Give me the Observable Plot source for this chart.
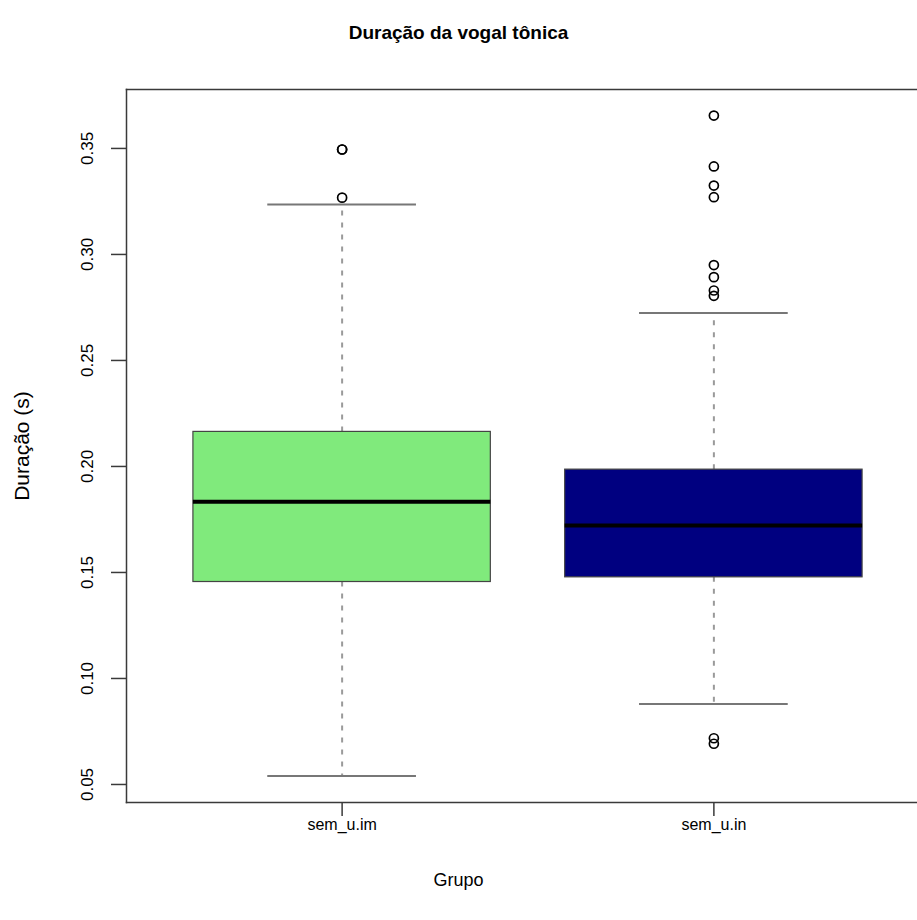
<!DOCTYPE html>
<html>
<head>
<meta charset="utf-8">
<script src="https://cdn.jsdelivr.net/npm/d3@7"></script>
<script src="https://cdn.jsdelivr.net/npm/@observablehq/plot@0.6"></script>
<style>
  html, body { margin: 0; padding: 0; background: #fff; overflow: hidden; }
  #wrap { width: 917px; font-family: "Liberation Sans", Arial, Helvetica, sans-serif; }
  #title { height: 60px; line-height: 66px; text-align: center; font-weight: bold; font-size: 19px; color: #000; }
  #xlabel { height: 60px; line-height: 40px; text-align: center; font-size: 18px; color: #000; }
  svg { display: block; overflow: hidden; }
</style>
</head>
<body>
<div id="wrap">
  <div id="title">Duração da vogal tônica</div>
  <div id="chart"></div>
  <div id="xlabel">Grupo</div>
</div>
<script>
// Summary statistics of vowel duration (s) per group
const groups = ["sem_u.im", "sem_u.in"];
const whiskerLow = [0.054, 0.088];
const q1 = [0.1455, 0.1477];
const median = [0.1833, 0.1722];
const q3 = [0.2163, 0.1985];
const whiskerHigh = [0.3235, 0.2724];
const outliersIm = [0.3495, 0.3495, 0.3268];
const outliersIn = [0.3655, 0.3415, 0.3325, 0.3270, 0.2950, 0.2893, 0.2830, 0.2805, 0.0718, 0.0692];
const boxColors = ["#80ea7c", "#000080"];
const yTicks = [0.05, 0.10, 0.15, 0.20, 0.25, 0.30, 0.35];

const boxes = groups.map((name, i) => ({
  name, pos: i + 1,
  lo: whiskerLow[i], q1: q1[i], med: median[i], q3: q3[i], hi: whiskerHigh[i]
}));
const outliers = [
  ...outliersIm.map(v => ({pos: 1, value: v})),
  ...outliersIn.map(v => ({pos: 2, value: v}))
];

const boxHalf = 0.4, stapleHalf = 0.2;
const axisColor = "#3a3a3a";

const chart = Plot.plot({
  width: 917,
  height: 800,
  marginTop: 29,
  marginBottom: 58,
  marginLeft: 126,
  marginRight: 0,
  style: {fontFamily: "Liberation Sans, Arial, sans-serif", color: "#000", background: "#fff"},
  x: {type: "linear", domain: [0.42, 2.58], range: [126, 929]},
  y: {domain: [0.0415, 0.3778]},
  color: {domain: groups, range: boxColors},
  marks: [
    // whiskers
    Plot.ruleX(boxes, {x: "pos", y1: "q3", y2: "hi", stroke: "#9a9a9a", strokeWidth: 2, strokeDasharray: "5,7"}),
    Plot.ruleX(boxes, {x: "pos", y1: "q1", y2: "lo", stroke: "#9a9a9a", strokeWidth: 2, strokeDasharray: "5,7"}),
    // staples
    Plot.ruleY(boxes, {y: "hi", x1: d => d.pos - stapleHalf, x2: d => d.pos + stapleHalf, stroke: "#777", strokeWidth: 2}),
    Plot.ruleY(boxes, {y: "lo", x1: d => d.pos - stapleHalf, x2: d => d.pos + stapleHalf, stroke: "#777", strokeWidth: 2}),
    // boxes
    Plot.rect(boxes, {x1: d => d.pos - boxHalf, x2: d => d.pos + boxHalf, y1: "q1", y2: "q3", fill: "name", stroke: "#444", strokeWidth: 1.2}),
    // medians
    Plot.ruleY(boxes, {y: "med", x1: d => d.pos - boxHalf, x2: d => d.pos + boxHalf, stroke: "#000", strokeWidth: 4}),
    // outliers
    Plot.dot(outliers, {x: "pos", y: "value", r: 4.5, stroke: "#000", strokeWidth: 1.7, fill: "none"}),
    // plot box (right side runs past the visible width)
    Plot.frame({anchor: "top", stroke: axisColor, strokeWidth: 1.5}),
    Plot.frame({anchor: "left", stroke: axisColor, strokeWidth: 1.5}),
    Plot.frame({anchor: "bottom", stroke: axisColor, strokeWidth: 1.5}),
    // axes
    Plot.axisY({ticks: yTicks, tickSize: 15, tickPadding: 19, tickRotate: -90, tickFormat: d3.format(".2f"), fontSize: 17, label: null, stroke: axisColor, strokeWidth: 1.5}),
    Plot.axisX({ticks: [1, 2], tickSize: 14, tickPadding: 2, tickFormat: d => groups[d - 1], fontSize: 16, label: null, stroke: axisColor, strokeWidth: 1.5}),
    // y-axis title
    Plot.text(["Duração (s)"], {frameAnchor: "left", dx: -104, rotate: -90, textAnchor: "middle", fontSize: 21, fill: "#000"})
  ]
});
document.getElementById("chart").appendChild(chart);
</script>
</body>
</html>
